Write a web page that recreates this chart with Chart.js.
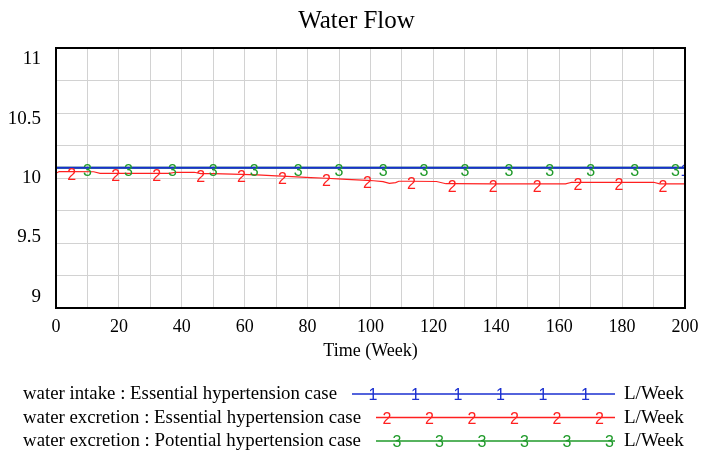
<!DOCTYPE html>
<html>
<head>
<meta charset="utf-8">
<title>Water Flow</title>
<script src="https://cdn.jsdelivr.net/npm/chart.js"></script>
<style>
  body { margin: 0; background: #fff; }
  #wrap { width: 701px; height: 452px; }
</style>
</head>
<body>
<div id="wrap"><canvas id="flowChart" width="701" height="452"></canvas></div>
<script>
// Start Data
const chartTitle = 'Water Flow';
const xTitle = 'Time (Week)';
const unitLabel = 'L/Week';
const yTickLabels = [11, 10.5, 10, 9.5, 9];
const seriesNames = [
  'water intake : Essential hypertension case',
  'water excretion : Essential hypertension case',
  'water excretion : Potential hypertension case'
];

// series 1 - water intake, essential
const blueWeeks  = [0, 200];
const blueValues = [10.078, 10.078];
const blueMarks  = [200];

// series 3 - water excretion, potential (hidden under series 1)
const greenWeeks  = [0, 10, 23, 37, 50, 63, 77, 90, 104, 117, 130, 144, 157, 170, 184, 197, 200];
const greenValues = [10.078, 10.078, 10.078, 10.078, 10.078, 10.078, 10.078, 10.078, 10.078,
                     10.078, 10.078, 10.078, 10.078, 10.078, 10.078, 10.078, 10.078];
const greenMarks  = [10, 23, 37, 50, 63, 77, 90, 104, 117, 130, 144, 157, 170, 184, 197];

// series 2 - water excretion, essential
const redWeeks  = [0, 1, 5, 12, 14, 19, 32, 36, 38, 44, 46, 50, 59, 64, 70, 72, 81, 86, 91, 94,
                   99, 101, 104, 106, 108, 109, 113, 121, 124, 126, 139, 153, 162, 164, 166, 179,
                   190, 192, 193, 200];
const redValues = [10.036, 10.05, 10.049, 10.048, 10.036, 10.036, 10.036, 10.036, 10.044, 10.044,
                   10.034, 10.034, 10.028, 10.024, 10.016, 10.014, 10.003, 9.998, 9.992, 9.988,
                   9.981, 9.979, 9.972, 9.959, 9.965, 9.975, 9.975, 9.973, 9.956, 9.956,
                   9.955, 9.955, 9.955, 9.967, 9.967, 9.967, 9.967, 9.955, 9.955, 9.955];
const redMarks  = [5, 19, 32, 46, 59, 72, 86, 99, 113, 126, 139, 153, 166, 179, 193];
// End Data

const serif = '"Liberation Serif", "Times New Roman", serif';
const sans = '"Liberation Sans", Arial, sans-serif';
const blue = '#1a2fd0', red = '#ff2020', green = '#1f9a2a';

function toPoints(weeks, values){
  return weeks.map((w, i) => ({ x: w, y: values[i] }));
}

// Start Vensim look plugin (digits, frame, texts, legend)
const vensimLook = {
  id: 'vensimLook',
  afterDatasetsDraw(chart){
    const ctx = chart.ctx, a = chart.chartArea;
    ctx.save();
    ctx.beginPath();
    ctx.rect(a.left, a.top, a.right - a.left, a.bottom - a.top);
    ctx.clip();
    ctx.font = '16px ' + sans;
    ctx.textAlign = 'center';
    ctx.textBaseline = 'alphabetic';
    for (let d = chart.data.datasets.length - 1; d >= 0; d--) {
      const ds = chart.data.datasets[d];
      const meta = chart.getDatasetMeta(d);
      ctx.fillStyle = ds.borderColor;
      ds.data.forEach((p, i) => {
        if (!ds.marks.includes(p.x)) return;
        const el = meta.data[i];
        ctx.fillText(ds.digit, el.x, el.y + 8);
      });
    }
    ctx.restore();
  },
  afterDraw(chart){
    const ctx = chart.ctx, a = chart.chartArea;
    const ys = chart.scales.y;
    ctx.save();

    // frame
    ctx.strokeStyle = '#000';
    ctx.lineWidth = 2;
    ctx.strokeRect(a.left, a.top, a.right - a.left, a.bottom - a.top);

    ctx.fillStyle = '#000';
    // y labels, pulled a bit toward the middle like Vensim does
    const mid = (a.top + a.bottom) / 2;
    ctx.font = '19px ' + serif;
    ctx.textAlign = 'right';
    ctx.textBaseline = 'middle';
    yTickLabels.forEach(v => {
      const p = ys.getPixelForValue(v);
      ctx.fillText(String(v), 41, p + (mid - p) * 0.085);
    });

    // title + axis title
    ctx.textAlign = 'center';
    ctx.textBaseline = 'alphabetic';
    ctx.font = '25px ' + serif;
    ctx.fillText(chartTitle, 356.5, 28);
    ctx.font = '18px ' + serif;
    ctx.fillText(xTitle, (a.left + a.right) / 2, 356);

    // legend
    const rows = [
      { base: 399, lineX: 352, first: 373, color: blue, digit: '1', width: 314 },
      { base: 422.5, lineX: 376, first: 387, color: red, digit: '2', width: 338 },
      { base: 446, lineX: 376, first: 397, color: green, digit: '3', width: 338 }
    ];
    rows.forEach((r, i) => {
      ctx.fillStyle = '#000';
      ctx.textAlign = 'left';
      ctx.font = '19px ' + serif;
      ctx.fillText(seriesNames[i], 23, r.base, r.width);
      ctx.fillText(unitLabel, 624, r.base, 68);
      const ly = r.base - 5;
      ctx.strokeStyle = r.color;
      ctx.lineWidth = 1.3;
      ctx.beginPath();
      ctx.moveTo(r.lineX, ly);
      ctx.lineTo(615, ly);
      ctx.stroke();
      ctx.fillStyle = r.color;
      ctx.textAlign = 'center';
      ctx.font = '16px ' + sans;
      for (let k = 0; k < 6; k++) {
        ctx.fillText(r.digit, r.first + k * 42.5, ly + 6);
      }
    });
    ctx.restore();
  }
};
// End Vensim look plugin

// Start Chart
const ctx = document.getElementById('flowChart');
new Chart(ctx, {
  type: 'line',
  data: {
    datasets: [
      { label: seriesNames[0], data: toPoints(blueWeeks, blueValues), borderColor: blue, borderWidth: 2, digit: '1', marks: blueMarks },
      { label: seriesNames[2], data: toPoints(greenWeeks, greenValues), borderColor: green, borderWidth: 2, digit: '3', marks: greenMarks },
      { label: seriesNames[1], data: toPoints(redWeeks, redValues), borderColor: red, borderWidth: 1.2, digit: '2', marks: redMarks }
    ]
  },
  options: {
    responsive: false,
    animation: false,
    events: [],
    elements: { point: { radius: 0 }, line: { tension: 0 } },
    layout: { padding: { top: 48, right: 16, left: 0, bottom: 0 } },
    plugins: { legend: { display: false }, tooltip: { enabled: false } },
    scales: {
      x: {
        type: 'linear', min: 0, max: 200,
        border: { display: false },
        grid: { color: '#d2d2d2', drawTicks: false },
        ticks: {
          stepSize: 10, autoSkip: false, maxRotation: 0, padding: 8,
          color: '#000', font: { family: serif, size: 18 },
          callback: v => (v % 20 === 0 ? v : '')
        },
        afterFit: s => { s.height = 144; s.paddingLeft = 0; s.paddingRight = 0; }
      },
      y: {
        min: 9, max: 11,
        border: { display: false },
        grid: { color: '#d2d2d2', drawTicks: false },
        ticks: { stepSize: 0.25, display: false },
        afterFit: s => { s.width = 56; }
      }
    }
  },
  plugins: [vensimLook]
});
// End Chart
</script>
</body>
</html>
